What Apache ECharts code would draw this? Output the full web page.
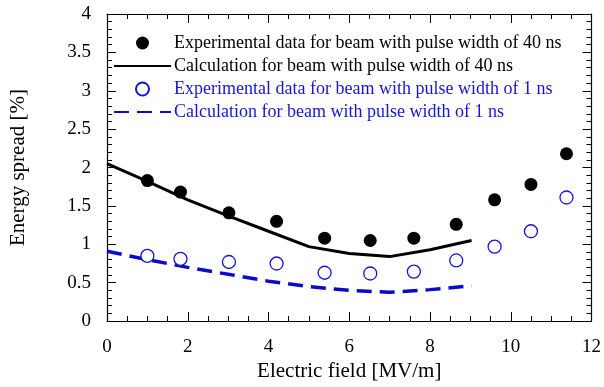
<!DOCTYPE html>
<html>
<head>
<meta charset="utf-8">
<script src="https://cdn.jsdelivr.net/npm/echarts@6/dist/echarts.min.js"></script>
<style>
  html, body { margin: 0; padding: 0; background: #fff; }
  #chart { width: 604px; height: 387px; }
</style>
</head>
<body>
<div id="chart"></div>
<script>
// experimental points (same fields for both beams)
const expField = [1.0, 1.82, 3.02, 4.2, 5.39, 6.52, 7.6, 8.65, 9.6, 10.5, 11.38];
const exp40ns = [1.83, 1.68, 1.41, 1.30, 1.08, 1.05, 1.08, 1.26, 1.58, 1.78, 2.18];
const exp1ns = [0.85, 0.81, 0.77, 0.75, 0.63, 0.62, 0.645, 0.79, 0.97, 1.17, 1.61];

// calculation curves
const calcField = [0, 1, 2, 3, 4, 5, 6, 7, 8, 9.03];
const calc40ns = [2.05, 1.82, 1.58, 1.37, 1.17, 0.97, 0.88, 0.84, 0.93, 1.05];
const calc1ns = [0.91, 0.80, 0.70, 0.61, 0.52, 0.45, 0.40, 0.375, 0.41, 0.46];

const names = [
  "Experimental data for beam with pulse width of 40 ns",
  "Calculation for beam with pulse width of 40 ns",
  "Experimental data for beam with pulse width of 1 ns",
  "Calculation for beam with pulse width of 1 ns",
];

const font = "'Liberation Serif', 'Times New Roman', serif";
const blue = "#1515d5";

function zip(xs, ys) {
  return xs.map(function (x, i) {
    return [x, ys[i]];
  });
}

let chart = echarts.init(document.getElementById("chart"));

let xBase = {
  type: "value",
  min: 0,
  max: 12,
  interval: 2,
  splitLine: { show: false },
  axisLine: { onZero: false, lineStyle: { color: "#000", width: 1.2 } },
  axisTick: { inside: true, length: 9, lineStyle: { color: "#000" } },
  minorTick: { show: true, splitNumber: 4, length: 5, lineStyle: { color: "#000" } },
};
let yBase = {
  type: "value",
  min: 0,
  max: 4,
  interval: 0.5,
  splitLine: { show: false },
  axisLine: { onZero: false, lineStyle: { color: "#000", width: 1.2 } },
  axisTick: { inside: true, length: 9, lineStyle: { color: "#000" } },
  minorTick: { show: true, splitNumber: 5, length: 5, lineStyle: { color: "#000" } },
};

// hide the little circle echarts puts on line legend icons
let noDot = { opacity: 0 };

let option = {
  animation: false,
  backgroundColor: "#fff",
  grid: { left: 104, right: 11, top: 14, bottom: 63 },
  legend: {
    orient: "vertical",
    left: 113,
    top: 34,
    padding: 0,
    itemGap: 5,
    itemWidth: 57,
    itemHeight: 13,
    textStyle: { fontFamily: font, fontSize: 18, padding: [0, 0, 0, -2] },
    data: [
      { name: names[0], textStyle: { color: "#000" } },
      { name: names[1], textStyle: { color: "#000" }, itemStyle: noDot },
      { name: names[2], textStyle: { color: blue } },
      { name: names[3], textStyle: { color: blue }, itemStyle: noDot },
    ],
  },
  xAxis: [
    Object.assign({}, xBase, {
      position: "bottom",
      name: "Electric field [MV/m]",
      nameLocation: "middle",
      nameGap: 39,
      nameTextStyle: { fontFamily: font, fontSize: 21, color: "#000" },
      axisLabel: { fontFamily: font, fontSize: 19, color: "#000", margin: 16 },
    }),
    Object.assign({}, xBase, { position: "top", axisLabel: { show: false } }),
  ],
  yAxis: [
    Object.assign({}, yBase, {
      position: "left",
      name: "Energy spread [%]",
      nameLocation: "middle",
      nameGap: 78,
      nameTextStyle: { fontFamily: font, fontSize: 21, color: "#000" },
      axisLabel: { fontFamily: font, fontSize: 19, color: "#000", margin: 16 },
    }),
    Object.assign({}, yBase, { position: "right", axisLabel: { show: false } }),
  ],
  series: [
    {
      name: names[0],
      type: "scatter",
      symbolSize: 13,
      itemStyle: { color: "#000", opacity: 1 },
      data: zip(expField, exp40ns),
      z: 5,
    },
    {
      name: names[1],
      type: "line",
      symbol: "none",
      lineStyle: { color: "#000", width: 3 },
      itemStyle: { color: "#000" },
      data: zip(calcField, calc40ns),
    },
    {
      name: names[2],
      type: "scatter",
      symbol: "circle",
      symbolSize: 13,
      itemStyle: { color: "#fff", borderColor: blue, borderWidth: 1.3, opacity: 1 },
      data: zip(expField, exp1ns),
      z: 5,
    },
    {
      name: names[3],
      type: "line",
      symbol: "none",
      lineStyle: { color: "#0a0acc", width: 3.5, type: [15, 8] },
      itemStyle: { color: "#0a0acc" },
      data: zip(calcField, calc1ns),
    },
  ],
};

chart.setOption(option);
</script>
</body>
</html>
